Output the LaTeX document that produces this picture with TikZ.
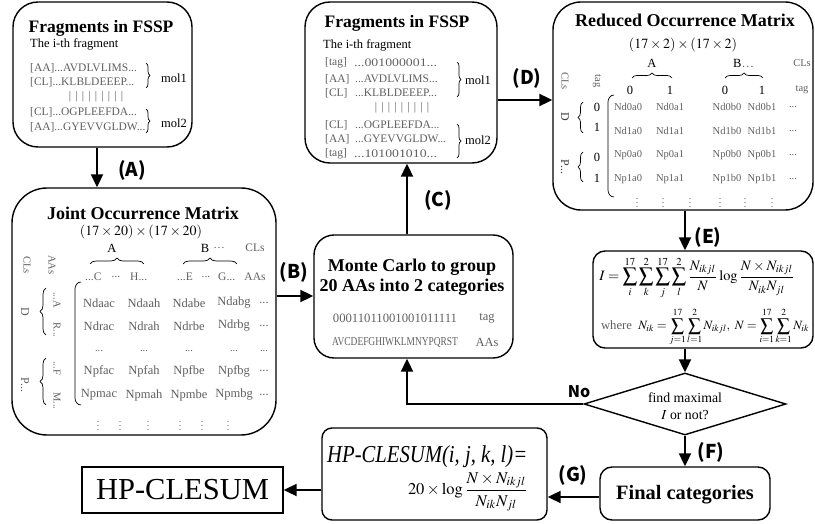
\documentclass[tikz,border=0pt]{standalone}
\usepackage{mathptmx}
\usepackage{graphicx}
\usepackage{fontspec}
\setmainfont{Liberation Serif}
\newfontfamily\cjk{Noto Sans CJK SC}
\usetikzlibrary{arrows.meta,decorations.pathreplacing,shapes.geometric}
\definecolor{tg}{RGB}{95,95,95}
\newcommand\fsz[1]{\fontsize{#1}{#1}\selectfont}
\newcommand\hsq[2]{\scalebox{#1}[1]{#2}}
\newcommand\barsrow{|\hspace{4.2pt}|\hspace{4.2pt}|\hspace{4.2pt}|\hspace{4.2pt}|\hspace{4.2pt}|\hspace{4.2pt}|\hspace{4.2pt}|\hspace{4.2pt}|}
\begin{document}
\begin{tikzpicture}[x=1pt,y=-1pt,
  box/.style={draw,line width=1.4pt,rounded corners=#1,inner sep=0},
  arr/.style={line width=2pt,-{Triangle[length=13pt,width=12pt]}},
  lab/.style={font=\cjk\bfseries\fsz{19},inner sep=0},
  ttl/.style={font=\bfseries\fsz{18},inner sep=0},
  gt/.style={text=tg,font=\fsz{11.5},inner sep=0},
  mt/.style={text=tg,font=\fsz{12.5},inner sep=0},
  st/.style={text=tg,font=\fsz{10.5},inner sep=0},
  rt/.style={rotate=-90,text=tg,font=\fsz{10.5},inner sep=0},
  bt/.style={font=\fsz{12.5},inner sep=0},
  br/.style={decorate,decoration={brace,amplitude=#1},line width=0.7pt},
  vd/.style={text=tg,font=\fsz{10},inner sep=0},
]
\useasboundingbox (0,0) rectangle (815,524);

% ---------- boxes ----------
\node[box=25pt,minimum width=179pt,minimum height=145pt] (f1) at (102.5,74.5) {};
\node[box=35pt,minimum width=264pt,minimum height=247pt] (jm) at (144,311.5) {};
\node[box=20pt,minimum width=199pt,minimum height=123pt] (mc) at (413.5,296.5) {};
\node[box=25pt,minimum width=192pt,minimum height=161pt] (f2) at (401,82.5) {};
\node[box=28pt,minimum width=260pt,minimum height=208pt] (rm) at (683,106) {};
\node[box=12pt,minimum width=220pt,minimum height=97pt] (fm) at (703,299.5) {};
\node[draw,diamond,line width=1.4pt,inner sep=0,minimum width=202pt,minimum height=62pt] (dm) at (685,404) {};
\node[box=12pt,minimum width=170pt,minimum height=53pt] (fc) at (685,493.5) {};
\node[box=10pt,minimum width=225pt,minimum height=92pt] (hf) at (434.5,474) {};
\node[draw,line width=1.4pt,inner sep=0,minimum width=201pt,minimum height=46pt] (hp) at (182.5,490) {};

% ---------- box 1 ----------
\node[ttl,font=\bfseries\fsz{17.5}] (f1t) at (101,28) {Fragments in FSSP};
\node[bt,anchor=west] (f1s) at (30,44) {The i-th fragment};
\node[gt,anchor=west] (f1a) at (30,68) {[AA]...AVDLVLIMS...};
\node[gt,anchor=west] (f1b) at (30,82) {[CL]...KLBLDEEEP...};
\node[gt] (f1c) at (96,97) {\barsrow};
\node[gt,anchor=west] (f1d) at (30,112) {[CL]...OGPLEEFDA...};
\node[gt,anchor=west] (f1e) at (30,127) {[AA]...GYEVVGLDW...};
\draw[br=4pt] (146,63) -- (146,88);
\draw[br=4pt] (146,109) -- (146,133);
\node[bt] (f1m1) at (174,78) {mol1};
\node[bt] (f1m2) at (174,123) {mol2};

% ---------- box 4 ----------
\node[ttl,font=\bfseries\fsz{17.5}] (f2t) at (397,23) {Fragments in FSSP};
\node[bt,anchor=west] (f2s) at (323,45) {The i-th fragment};
\node[gt,anchor=west] (p1) at (325,63) {[tag]};
\node[gt,anchor=west] (q1) at (354,63) {\hsq{1.2}{...001000001...}};
\node[gt,anchor=west] (p2) at (325,79) {[AA]};
\node[gt,anchor=west] (q2) at (355,79) {...AVDLVLIMS...};
\node[gt,anchor=west] (p3) at (325,93) {[CL]};
\node[gt,anchor=west] (q3) at (355,93) {...KLBLDEEEP...};
\node[gt] (p4) at (402,108) {\barsrow};
\node[gt,anchor=west] (p5) at (325,125) {[CL]};
\node[gt,anchor=west] (q5) at (355,125) {...OGPLEEFDA...};
\node[gt,anchor=west] (p6) at (325,139) {[AA]};
\node[gt,anchor=west] (q6) at (355,139) {...GYEVVGLDW...};
\node[gt,anchor=west] (p7) at (325,154) {[tag]};
\node[gt,anchor=west] (q7) at (354,154) {\hsq{1.2}{...101001010...}};
\draw[br=4pt] (457,62) -- (457,97);
\draw[br=4pt] (457,124) -- (457,158);
\node[bt] (f2m1) at (478,80) {mol1};
\node[bt] (f2m2) at (478,140) {mol2};

% ---------- box 2 : joint occurrence ----------
\node[ttl] (jmt) at (143,213) {Joint Occurrence Matrix};
\node[font=\fsz{14},inner sep=0] (jms) at (141,232) {$(17\times20)\times(17\times20)$};
\node[bt] (jA) at (112,248) {A};
\node[bt] (jB) at (205,248) {B};
\node[gt] (jBd) at (219,248) {\ldots};
\node[gt] (jCL) at (255,248) {CLs};
\draw[br=6pt] (90,264) -- (144,264);
\draw[br=6pt] (183,264) -- (237,264);
\node[gt,anchor=west] (h1) at (85,277) {...C};
\node[gt] (h2) at (116,277) {...};
\node[gt,anchor=west] (h3) at (130,277) {H...};
\node[gt,anchor=west] (h4) at (177,277) {...E};
\node[gt] (h5) at (206,277) {...};
\node[gt,anchor=west] (h6) at (218,277) {G...};
\node[gt] (h7) at (255,277) {AAs};
\node[rt] (jr1) at (27,265) {CLs};
\node[rt] (jr2) at (52,265) {AAs};
\node[rt,font=\fsz{12}] (jD) at (25,312) {D};
\node[rt,font=\fsz{12}] (jP) at (25,385) {P...};
\node[rt] (ja1) at (57,300) {...A};
\node[rt] (ja2) at (57,330) {R...};
\node[rt] (ja3) at (57,368) {...F};
\node[rt] (ja4) at (57,401) {M...};
\draw[br=6pt] (46,335) -- (46,288);
\draw[br=6pt] (46,405) -- (46,358);
\draw[line width=0.7pt] (81,282) to[out=180,in=90] (75,289) -- (75,398) to[out=-90,in=180] (81,405);
\foreach \y/\s in {303/da, 326/dr, 371/pf, 395/pm} {
  \node[mt] (c1\s) at (99,\y) {N\s ac};
  \node[mt] (c2\s) at (144,\y) {N\s ah};
  \node[mt] (c3\s) at (189,\y) {N\s be};
  \node[mt] (c4\s) at (234,\y) {N\s bg};
  \node[mt] (c5\s) at (264,\y) {...};
}
\foreach \x in {99,144,189,234,264} \node[st] at (\x,351) {...};
\foreach \x in {98,120,148,180,202,228} \node[vd] at (\x,423) {$\vdots$};

% ---------- box 3 : monte carlo ----------
\node[ttl] (mct1) at (412,267) {Monte Carlo to group};
\node[ttl] (mct2) at (412,287) {20 AAs into 2 categories};
\node[mt,font=\fsz{12.7}] (mcs1) at (395,318) {00011011001001011111};
\node[mt] (mcl1) at (487,318) {tag};
\node[mt] (mcs2) at (395,342) {\hsq{0.785}{\fsz{12}AVCDEFGHIWKLMNYPQRST}};
\node[mt] (mcl2) at (487,342) {AAs};

% ---------- box 5 : reduced ----------
\node[ttl] (rmt) at (685,20) {Reduced Occurrence Matrix};
\node[font=\fsz{14},inner sep=0] (rms) at (683,45) {$(17\times2)\times(17\times2)$};
\node[bt] (rA) at (652,63) {A};
\node[bt,anchor=west] (rB) at (733,63) {B\textcolor{tg}{\ldots}};
\node[st] (rCL) at (802,63) {CLs};
\draw[br=5pt] (632,78) -- (672,78);
\draw[br=5pt] (725,78) -- (763,78);
\node[bt] (rh1) at (630,90) {0};
\node[bt] (rh2) at (670,90) {1};
\node[bt] (rh3) at (725,90) {0};
\node[bt] (rh4) at (762,90) {1};
\node[st] (rh5) at (802,90) {tag};
\node[rt] (rr1) at (565,81) {CLs};
\node[rt] (rr2) at (597,81) {tag};
\node[bt] (rv1) at (597,107) {0};
\node[bt] (rv2) at (597,127) {1};
\node[bt] (rv3) at (597,157) {0};
\node[bt] (rv4) at (597,178) {1};
\node[rt,text=black!75,font=\fsz{12}] (rD) at (565,117) {D};
\node[rt,text=black!75,font=\fsz{12}] (rP) at (565,167) {P...};
\draw[br=5pt] (583,133) -- (583,102);
\draw[br=5pt] (583,182) -- (583,152);
\draw[line width=0.7pt] (614,95) to[out=180,in=90] (608,102) -- (608,190) to[out=-90,in=180] (614,197);
\foreach \y/\s in {107/d0, 131/d1, 155/p0, 179/p1} {
  \node[st] (r1\s) at (628,\y) {N\s a0};
  \node[st] (r2\s) at (670,\y) {N\s a1};
  \node[st] (r3\s) at (727,\y) {N\s b0};
  \node[st] (r4\s) at (762,\y) {N\s b1};
  \node[st] (r5\s) at (793,\y) {...};
}
\foreach \x in {637,663,690,720,745,772} \node[vd] at (\x,200) {$\vdots$};

% ---------- box 6 : formula ----------
\node[inner sep=0] (fm1) at (697,278) {\resizebox{195pt}{!}{$\displaystyle I=\sum_{i}^{17}\sum_{k}^{2}\sum_{j}^{17}\sum_{l}^{2}\frac{N_{ikjl}}{N}\log\frac{N\times N_{ikjl}}{N_{ik}N_{jl}}$}};
\node[inner sep=0] (fm2) at (705,327) {\resizebox{208pt}{!}{\textcolor{tg}{where}\ \ $\displaystyle N_{ik}=\sum_{j=1}^{17}\sum_{l=1}^{2}N_{ikjl},\ N=\sum_{i=1}^{17}\sum_{k=1}^{2}N_{ik}$}};

% ---------- diamond ----------
\node[font=\fsz{13.8},inner sep=0] (dm1) at (685,398) {find maximal};
\node[font=\fsz{13.8},inner sep=0] (dm2) at (685,415) {$I$ or not?};

% ---------- final categories ----------
\node[font=\bfseries\fsz{20.4},inner sep=0] (fct) at (685,495) {Final categories};

% ---------- HP-CLESUM formula box ----------
\node[inner sep=0,anchor=west] (hf1) at (327,457) {\resizebox*{200pt}{22pt}{\itshape HP-CLESUM(i, j, k, l)=}};
\node[inner sep=0] (hf2) at (468,492) {\resizebox{120pt}{!}{$\displaystyle 20\times\log\frac{N\times N_{ikjl}}{N_{ik}N_{jl}}$}};
\node[font=\fsz{30.5},inner sep=0] (hpt) at (182.5,490) {HP-CLESUM};

% ---------- connectors ----------
\coordinate (pA) at (97,0);
\coordinate (pB) at (0,296);
\coordinate (pC) at (407,0);
\coordinate (pD) at (0,100);
\coordinate (pE) at (685,0);
\coordinate (pG) at (0,497);
\coordinate (pH) at (0,490);
\draw[arr] (f1.south -| pA) -- (jm.north -| pA);
\draw[arr] (jm.east |- pB) -- (mc.west |- pB);
\draw[arr] (mc.north -| pC) -- (f2.south -| pC);
\draw[arr] (f2.east |- pD) -- (rm.west |- pD);
\draw[arr] (rm.south -| pE) -- (fm.north -| pE);
\draw[arr] (fm.south -| pE) -- (dm.north);
\draw[arr] (dm.west) -- (dm.west -| pC) -- (mc.south -| pC);
\draw[arr] (dm.south) -- (fc.north -| dm.south);
\draw[arr] (fc.west |- pG) -- (hf.east |- pG);
\draw[arr] (hf.west |- pH) -- (hp.east |- pH);

% ---------- labels ----------
\node[lab] (lA) at (132,170) {(A)};
\node[lab] (lB) at (294,272) {(B)};
\node[lab] (lC) at (438,200) {(C)};
\node[lab] (lD) at (527,78) {(D)};
\node[lab] (lE) at (708,237) {(E)};
\node[lab] (lF) at (711,452) {(F)};
\node[lab] (lG) at (573,475) {(G)};
\node[lab,font=\cjk\bfseries\fsz{16}] (lN) at (579,392) {No};
\end{tikzpicture}
\end{document}
